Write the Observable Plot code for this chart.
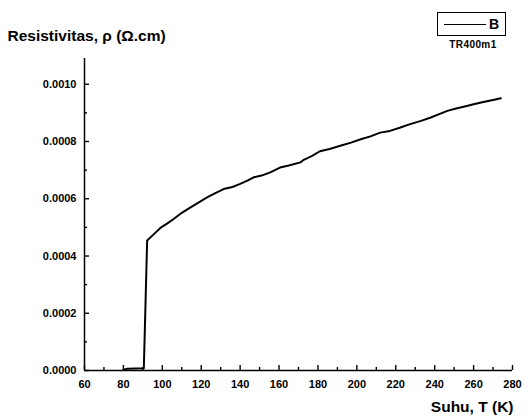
<!DOCTYPE html>
<html>
<head>
<meta charset="utf-8">
<script src="https://cdn.jsdelivr.net/npm/d3@7"></script>
<script src="https://cdn.jsdelivr.net/npm/@observablehq/plot@0.6"></script>
<style>
  html, body { margin: 0; padding: 0; background: #fff; }
  #wrap { position: relative; width: 532px; height: 419px; font-family: "Liberation Sans", Arial, sans-serif; }
  #legend { position: absolute; left: 437px; top: 12px; width: 69px; height: 24px; border: 1.3px solid #000; box-sizing: border-box; }
  #legend .ln { position: absolute; left: 6px; top: 11px; width: 42px; height: 0; border-top: 1.6px solid #000; }
  #legend .lb { position: absolute; left: 51px; top: 3px; font-size: 14px; font-weight: bold; line-height: 16px; }
  #leglabel { position: absolute; left: 437px; top: 39px; width: 72px; text-align: center; font-size: 10px; font-weight: bold; letter-spacing: 0.4px; }
  svg text { font-family: "Liberation Sans", Arial, sans-serif; }
</style>
</head>
<body>
<div id="wrap">
  <div id="chart"></div>
  <div id="legend"><div class="ln"></div><div class="lb">B</div></div>
  <div id="leglabel">TR400m1</div>
</div>
<script>
// Data
const temperature = [80, 82, 86, 90.5, 92.2, 95, 99, 103, 106, 110, 114.5, 119, 123, 127, 131.5, 136, 140, 144, 147, 151, 155.5, 160.5, 165, 171, 172.7, 177, 181, 186, 191.5, 197, 202, 207, 212, 217, 222, 227, 233, 238, 242, 246.5, 251, 256, 260, 265, 270, 274];
const resistivity = [0.000003, 0.000006, 0.000007, 0.000008, 0.000454, 0.000472, 0.000498, 0.000516, 0.000530, 0.000551, 0.000570, 0.000588, 0.000605, 0.000619, 0.000634, 0.000641, 0.000652, 0.000664, 0.000675, 0.000681, 0.000692, 0.000709, 0.000716, 0.000727, 0.000736, 0.000750, 0.000766, 0.000774, 0.000785, 0.000796, 0.000808, 0.000818, 0.000831, 0.000837, 0.000848, 0.000860, 0.000872, 0.000884, 0.000895, 0.000907, 0.000915, 0.000923, 0.000930, 0.000938, 0.000945, 0.000951];
const xMajorTicks = [60, 80, 100, 120, 140, 160, 180, 200, 220, 240, 260, 280];
const xMinorTicks = [70, 90, 110, 130, 150, 170, 190, 210, 230, 250, 270];
const yMajorTicks = [0, 0.0002, 0.0004, 0.0006, 0.0008, 0.0010];
const yMinorTicks = [0.0001, 0.0003, 0.0005, 0.0007, 0.0009];
const xDomain = [60, 280];
const yDomain = [0, 0.00109];
const yTitle = "Resistivitas, ρ (Ω.cm)";
const xTitle = "Suhu, T (K)";

const data = temperature.map((t, i) => ({t, r: resistivity[i]}));

const W = 532, H = 419, mL = 84, mR = 20, mT = 58, mB = 49;
const fw = W - mL - mR, fh = H - mT - mB;
// convert tick lengths in pixels to data units along each scale
const dxUnits = px => px * (xDomain[1] - xDomain[0]) / fw;
const dyUnits = px => px * (yDomain[1] - yDomain[0]) / fh;

const chart = Plot.plot({
  width: W,
  height: H,
  marginLeft: mL,
  marginRight: mR,
  marginTop: mT,
  marginBottom: mB,
  style: {fontFamily: "Liberation Sans, Arial, sans-serif", background: "#fff", color: "#000"},
  x: {domain: xDomain},
  y: {domain: yDomain},
  marks: [
    Plot.axisX({ticks: xMajorTicks, tickSize: 0, tickPadding: 10, tickFormat: d3.format("d"), fontSize: 11, fontWeight: "bold", label: null}),
    Plot.axisY({ticks: yMajorTicks, tickSize: 0, tickPadding: 8, tickFormat: d3.format(".4f"), fontSize: 11, fontWeight: "bold", label: null}),
    Plot.ruleX(xMajorTicks, {x: d => d, y1: yDomain[0], y2: yDomain[0] + dyUnits(5), stroke: "#000", strokeWidth: 1.4}),
    Plot.ruleX(xMinorTicks, {x: d => d, y1: yDomain[0], y2: yDomain[0] + dyUnits(3), stroke: "#000", strokeWidth: 1.4}),
    Plot.ruleY(yMajorTicks, {y: d => d, x1: xDomain[0], x2: xDomain[0] + dxUnits(5), stroke: "#000", strokeWidth: 1.4}),
    Plot.ruleY(yMinorTicks, {y: d => d, x1: xDomain[0], x2: xDomain[0] + dxUnits(3), stroke: "#000", strokeWidth: 1.4}),
    Plot.ruleX([xDomain[0]], {stroke: "#000", strokeWidth: 1.5}),
    Plot.ruleY([yDomain[0]], {stroke: "#000", strokeWidth: 1.5}),
    Plot.line(data, {x: "t", y: "r", stroke: "#000", strokeWidth: 2}),
    Plot.text([yTitle], {frameAnchor: "top-left", dx: -77, dy: -22, textAnchor: "start", lineAnchor: "middle", fontSize: 15.5, fontWeight: "bold"}),
    Plot.text([xTitle], {frameAnchor: "bottom-right", dx: 1, dy: 37, textAnchor: "end", lineAnchor: "middle", fontSize: 15.5, fontWeight: "bold"})
  ]
});
document.getElementById("chart").appendChild(chart);
</script>
</body>
</html>
